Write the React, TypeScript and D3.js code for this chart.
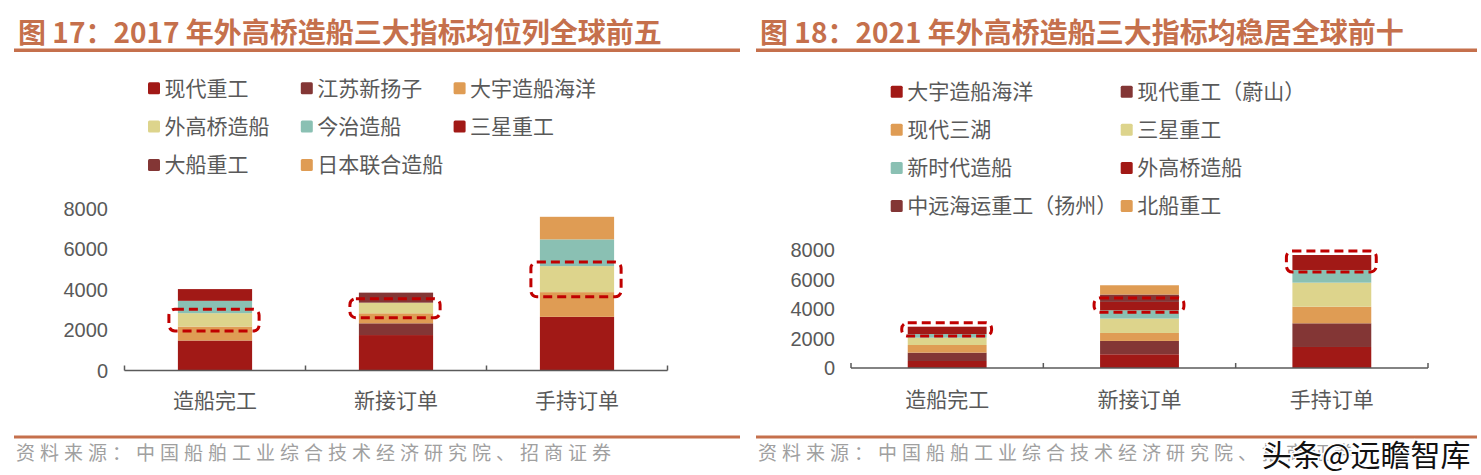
import React from "react";
import { scaleBand, scaleLinear, stack } from "d3";

const categories = ["造船完工", "新接订单", "手持订单"];
const yTicks = [0, 2000, 4000, 6000, 8000];

// 2017
const names2017 = [
  "现代重工",
  "江苏新扬子",
  "大宇造船海洋",
  "外高桥造船",
  "今治造船",
  "三星重工",
  "大船重工",
  "日本联合造船",
];
const values2017 = [
  [1480, 1750, 2650],
  [0, 580, 0],
  [690, 495, 1220],
  [660, 525, 1285],
  [610, 0, 1320],
  [580, 0, 0],
  [0, 495, 0],
  [0, 0, 1115],
];

// 2021
const names2021 = [
  "大宇造船海洋",
  "现代重工（蔚山）",
  "现代三湖",
  "三星重工",
  "新时代造船",
  "外高桥造船",
  "中远海运重工（扬州）",
  "北船重工",
];
const values2021 = [
  [475, 930, 1425],
  [565, 905, 1605],
  [520, 540, 1125],
  [495, 975, 1630],
  [250, 565, 860],
  [495, 565, 1015],
  [0, 500, 0],
  [0, 630, 0],
];

const RED = "#A11916";
const MAROON = "#833635";
const ORANGE = "#DF9C54";
const YELLOW = "#DDD48C";
const TEAL = "#8AC0B3";

const colors2017 = [RED, MAROON, ORANGE, YELLOW, TEAL, RED, MAROON, ORANGE];
const colors2021 = [RED, MAROON, ORANGE, YELLOW, TEAL, RED, MAROON, ORANGE];

const TITLE_COLOR = "#C5704C";
const TEXT = "#595959";
const CJK = "'Noto Sans CJK SC', 'Noto Sans', sans-serif";
const NUM = "'Liberation Sans', Arial, sans-serif";
const SOURCE = "资料来源：中国船舶工业综合技术经济研究院、招商证券";

interface Layout {
  left: number;
  right: number;
  axisX0: number;
  axisX1: number;
  yRange: [number, number];
  labelX: number;
  catY: number;
  legendX: number;
  legendY: number;
  legendCols: number;
  legendColW: number;
  legendRowH: number;
  box: { l: number; r: number; t: number; b: number };
}

const Panel = ({
  title,
  names,
  values,
  colors,
  highlight,
  layout,
}: {
  title: string;
  names: string[];
  values: number[][];
  colors: string[];
  highlight: number;
  layout: Layout;
}) => {
  const rows = categories.map((c, i) => {
    const r: any = { cat: c };
    names.forEach((n, j) => (r[n] = values[j][i]));
    return r;
  });
  const series = stack<any>().keys(names)(rows);

  const x = scaleBand<string>()
    .domain(categories)
    .range([layout.axisX0, layout.axisX1]);
  const y = scaleLinear().domain([0, 8000]).range(layout.yRange);
  const barW = x.bandwidth() * 0.41;
  const barX = (c: string) => x(c)! + (x.bandwidth() - barW) / 2;
  const base = y(0);
  const ticks = [...categories.map((c) => x(c)!), layout.axisX1];

  return (
    <g>
      <text
        x={layout.left + 4}
        y={43}
        fill={TITLE_COLOR}
        fontSize={28}
        fontWeight="bold"
        fontFamily={CJK}
      >
        {title}
      </text>
      <rect
        x={layout.left}
        y={48.5}
        width={layout.right - layout.left}
        height={3.5}
        fill={TITLE_COLOR}
      />

      {names.map((n, i) => {
        const col = i % layout.legendCols;
        const row = Math.floor(i / layout.legendCols);
        const lx = layout.legendX + col * layout.legendColW;
        const ly = layout.legendY + row * layout.legendRowH;
        return (
          <g key={n}>
            <rect
              x={lx}
              y={ly - 6}
              width={12}
              height={12}
              rx={1.5}
              fill={colors[i]}
            />
            <text
              x={lx + 16.5}
              y={ly + 7.3}
              fontSize={21}
              fill={TEXT}
              fontFamily={CJK}
            >
              {n}
            </text>
          </g>
        );
      })}

      {yTicks.map((t) => (
        <text
          key={t}
          x={layout.labelX}
          y={y(t)}
          dy="0.36em"
          textAnchor="end"
          fontSize={20}
          fill={TEXT}
          fontFamily={NUM}
        >
          {t}
        </text>
      ))}

      {series.map((s, i) =>
        s.map((d) => {
          const h = y(d[0]) - y(d[1]);
          if (h <= 0) return null;
          return (
            <rect
              key={names[i] + d.data.cat}
              x={barX(d.data.cat)}
              y={y(d[1])}
              width={barW}
              height={h}
              fill={colors[i]}
            />
          );
        })
      )}

      <line
        x1={layout.axisX0}
        x2={layout.axisX1}
        y1={base}
        y2={base}
        stroke="#5A5A5A"
        strokeWidth={1.5}
      />
      {ticks.map((t, i) => (
        <line
          key={i}
          x1={t}
          x2={t}
          y1={base}
          y2={base - 5}
          stroke="#5A5A5A"
          strokeWidth={1.5}
        />
      ))}

      {series[highlight].map((d) => {
        if (d[1] - d[0] <= 0) return null;
        const bx = barX(d.data.cat);
        return (
          <rect
            key={"box" + d.data.cat}
            x={bx - layout.box.l}
            y={y(d[1]) - layout.box.t}
            width={barW + layout.box.l + layout.box.r}
            height={y(d[0]) - y(d[1]) + layout.box.t + layout.box.b}
            rx={6}
            fill="none"
            stroke="#C00000"
            strokeWidth={3}
            strokeDasharray="9 5"
          />
        );
      })}

      {categories.map((c) => (
        <text
          key={c}
          x={x(c)! + x.bandwidth() / 2}
          y={layout.catY}
          textAnchor="middle"
          fontSize={21}
          fill={TEXT}
          fontFamily={CJK}
        >
          {c}
        </text>
      ))}

      <rect
        x={layout.left}
        y={435.5}
        width={layout.right - layout.left}
        height={3}
        fill={TITLE_COLOR}
      />
      <text
        x={layout.left + 2}
        y={460}
        fontSize={19}
        letterSpacing={5}
        fill="#A0A0A0"
        fontFamily={CJK}
      >
        {SOURCE}
      </text>
    </g>
  );
};

const leftLayout: Layout = {
  left: 14,
  right: 740,
  axisX0: 124.5,
  axisX1: 667.5,
  yRange: [370.5, 208.5],
  labelX: 108,
  catY: 408,
  legendX: 148,
  legendY: 88.3,
  legendCols: 3,
  legendColW: 152.8,
  legendRowH: 38.3,
  box: { l: 9, r: 7, t: 4, b: 4.5 },
};

const rightLayout: Layout = {
  left: 756,
  right: 1477,
  axisX0: 851,
  axisX1: 1428,
  yRange: [368, 250],
  labelX: 835,
  catY: 406.5,
  legendX: 890.7,
  legendY: 91.7,
  legendCols: 2,
  legendColW: 230,
  legendRowH: 38.1,
  box: { l: 6, r: 5, t: 4, b: 2 },
};

export default function App() {
  return (
    <div style={{ position: "absolute", left: 0, top: 0 }}>
      <svg width={1481} height={475} style={{ display: "block", background: "#fff" }}>
        <Panel
          title="图 17：2017 年外高桥造船三大指标均位列全球前五"
          names={names2017}
          values={values2017}
          colors={colors2017}
          highlight={3}
          layout={leftLayout}
        />
        <Panel
          title="图 18：2021 年外高桥造船三大指标均稳居全球前十"
          names={names2021}
          values={values2021}
          colors={colors2021}
          highlight={5}
          layout={rightLayout}
        />
        <text
          x={1262}
          y={466}
          fontSize={30}
          fill="#111"
          stroke="#fff"
          strokeWidth={3}
          paintOrder="stroke"
          fontFamily={CJK}
        >
          头条@远瞻智库
        </text>
      </svg>
    </div>
  );
}
